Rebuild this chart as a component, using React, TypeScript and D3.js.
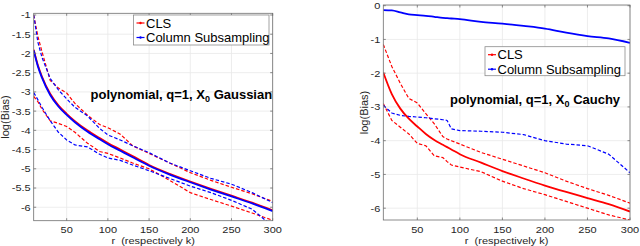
import React from "react";
import * as d3 from "d3";

// ---------- Data ----------
const xTicks = [50, 100, 150, 200, 250, 300];

// Left panel (X0 Gaussian)
const rLeft = [10, 15, 20, 30, 40, 50, 60, 75, 90, 100, 115, 130, 150, 175, 200, 225, 250, 275, 300];
const leftClsMean = [-1.9, -2.3, -2.6, -3.05, -3.35, -3.57, -3.76, -4.0, -4.2, -4.33, -4.5, -4.67, -4.9, -5.13, -5.33, -5.52, -5.7, -5.88, -6.08];
const leftCsMean = [-1.92, -2.33, -2.63, -3.08, -3.38, -3.6, -3.79, -4.03, -4.23, -4.36, -4.53, -4.7, -4.92, -5.15, -5.35, -5.54, -5.72, -5.9, -6.1];
const leftClsUpper = [-1.0, -1.55, -1.95, -2.7, -2.9, -3.03, -3.3, -3.6, -3.85, -3.93, -4.1, -4.4, -4.6, -4.85, -5.1, -5.3, -5.48, -5.65, -5.85];
const leftCsUpper = [-1.0, -1.7, -2.1, -2.65, -2.95, -3.18, -3.4, -3.62, -3.95, -4.12, -4.25, -4.4, -4.58, -4.85, -5.05, -5.25, -5.4, -5.62, -5.88];
const leftClsLower = [-3.12, -3.25, -3.45, -3.75, -3.82, -3.9, -4.05, -4.33, -4.55, -4.6, -4.72, -4.85, -5.0, -5.3, -5.62, -5.8, -5.97, -6.15, -6.34];
const leftCsLower = [-3.02, -3.2, -3.4, -3.75, -4.05, -4.25, -4.38, -4.43, -4.62, -4.72, -4.78, -4.9, -5.05, -5.25, -5.45, -5.62, -5.82, -6.05, -6.5];
const leftYTicks = [-1, -1.5, -2, -2.5, -3, -3.5, -4, -4.5, -5, -5.5, -6];

// Right panel (X0 Cauchy)
const rRight = [10, 20, 30, 40, 50, 60, 70, 80, 85, 90, 100, 125, 150, 175, 200, 225, 250, 275, 300];
const rightCsMean = [-0.13, -0.14, -0.2, -0.26, -0.28, -0.3, -0.33, -0.36, -0.37, -0.38, -0.4, -0.48, -0.53, -0.6, -0.68, -0.8, -0.9, -0.97, -1.1];
const rightClsMean = [-1.98, -2.62, -3.05, -3.35, -3.58, -3.8, -3.98, -4.12, -4.19, -4.26, -4.4, -4.65, -4.9, -5.12, -5.33, -5.52, -5.7, -5.88, -6.1];
const rightClsUpper = [-1.15, -1.8, -2.3, -2.75, -2.88, -3.2, -3.5, -3.88, -3.95, -4.0, -4.1, -4.35, -4.55, -4.75, -4.95, -5.2, -5.42, -5.62, -5.85];
const rightClsLower = [-2.9, -3.4, -3.6, -3.8, -4.08, -4.15, -4.45, -4.5, -4.62, -4.72, -4.78, -4.92, -5.2, -5.42, -5.6, -5.8, -6.0, -6.2, -6.35];
const rightCsLower = [-2.95, -3.18, -3.25, -3.28, -3.3, -3.32, -3.35, -3.38, -3.4, -3.65, -3.7, -3.72, -3.75, -3.82, -4.0, -4.1, -4.15, -4.4, -4.95];
const rightYTicks = [0, -1, -2, -3, -4, -5, -6];

const legendLabels = ["CLS", "Column Subsampling"];
const RED = "#ff0000";
const BLUE = "#0000ff";
const FONT = "'Liberation Sans', Arial, Helvetica, sans-serif";

type Series = { r: number[]; v: number[]; color: string; dashed: boolean };

type PanelProps = {
  id: string;
  x0: number; x1: number; y0: number; y1: number;
  yDomain: [number, number];
  yTicks: number[];
  series: Series[];
  legend: { x: number; y: number; w: number; h: number };
  annotation: { x: number; y: number; main: string; after: string };
  yLabelX: number;
};

const SY = 0.85; // vertical squash of the original figure's text

function Panel(p: PanelProps) {
  const xs = d3.scaleLinear().domain([10, 300]).range([p.x0, p.x1]);
  const ys = d3.scaleLinear().domain(p.yDomain).range([p.y1, p.y0]);
  const clipId = "clip-" + p.id;
  const axisColor = "#6e6e6e";
  const textColor = "#262626";
  return (
    <g>
      <defs>
        <clipPath id={clipId}>
          <rect x={p.x0} y={p.y0} width={p.x1 - p.x0} height={p.y1 - p.y0} />
        </clipPath>
      </defs>
      <rect x={p.x0} y={p.y0} width={p.x1 - p.x0} height={p.y1 - p.y0} fill="#fff" />
      {/* grid */}
      {xTicks.map((t) => (
        <line key={"gx" + t} x1={xs(t)} x2={xs(t)} y1={p.y0} y2={p.y1} stroke="#e8e8e8" strokeWidth={0.8} />
      ))}
      {p.yTicks.map((t) => (
        <line key={"gy" + t} x1={p.x0} x2={p.x1} y1={ys(t)} y2={ys(t)} stroke="#e8e8e8" strokeWidth={0.8} />
      ))}
      {/* series */}
      <g clipPath={`url(#${clipId})`}>
        {p.series.map((s, i) => {
          const line = d3
            .line<number>()
            .x((_, j) => xs(s.r[j]))
            .y((d) => ys(d))
            .curve(s.dashed ? d3.curveLinear : d3.curveMonotoneX);
          return (
            <path
              key={i}
              d={line(s.v) || ""}
              fill="none"
              stroke={s.color}
              strokeWidth={s.dashed ? 1.2 : 1.8}
              strokeDasharray={s.dashed ? "3.5,2" : undefined}
            />
          );
        })}
      </g>
      {/* axes box */}
      <rect x={p.x0} y={p.y0} width={p.x1 - p.x0} height={p.y1 - p.y0} fill="none" stroke={axisColor} strokeWidth={0.8} />
      {/* ticks */}
      {xTicks.map((t) => (
        <g key={"tx" + t}>
          <line x1={xs(t)} x2={xs(t)} y1={p.y1} y2={p.y1 - 2.5} stroke={axisColor} strokeWidth={0.8} />
          <line x1={xs(t)} x2={xs(t)} y1={p.y0} y2={p.y0 + 2.5} stroke={axisColor} strokeWidth={0.8} />
          <text
            transform={`translate(${xs(t)},233) scale(1,${SY})`}
            textAnchor="middle"
            fontSize={11}
            fill={textColor}
            fontFamily={FONT}
          >
            {t}
          </text>
        </g>
      ))}
      {p.yTicks.map((t) => (
        <g key={"ty" + t}>
          <line x1={p.x0} x2={p.x0 + 2.5} y1={ys(t)} y2={ys(t)} stroke={axisColor} strokeWidth={0.8} />
          <line x1={p.x1} x2={p.x1 - 2.5} y1={ys(t)} y2={ys(t)} stroke={axisColor} strokeWidth={0.8} />
          <text
            transform={`translate(${p.x0 - 3},${ys(t) + 3.4}) scale(1,${SY})`}
            textAnchor="end"
            fontSize={11}
            fill={textColor}
            fontFamily={FONT}
          >
            {t}
          </text>
        </g>
      ))}
      {/* axis labels */}
      <text
        transform={`translate(${(p.x0 + p.x1) / 2},243.5) scale(1,${SY})`}
        textAnchor="middle"
        fontSize={11}
        fill={textColor}
        fontFamily={FONT}
        style={{ whiteSpace: "pre" }}
      >
        {"r  (respectively k)"}
      </text>
      <text
        transform={`translate(${p.yLabelX},${(p.y0 + p.y1) / 2}) rotate(-90)`}
        textAnchor="middle"
        fontSize={11}
        fill={textColor}
        fontFamily={FONT}
      >
        log(Bias)
      </text>
      {/* annotation */}
      <text x={p.annotation.x} y={p.annotation.y} fontSize={13} fontWeight="bold" fill="#000" fontFamily={FONT}>
        {p.annotation.main}
        <tspan fontSize={9} dy={3}>0</tspan>
        <tspan dy={-3}>{p.annotation.after}</tspan>
      </text>
      {/* legend */}
      <rect x={p.legend.x} y={p.legend.y} width={p.legend.w} height={p.legend.h} fill="#fff" stroke="#8c8c8c" strokeWidth={0.8} />
      {legendLabels.map((lab, i) => {
        const cy = p.legend.y + 8 + i * 14.5;
        const c = i === 0 ? RED : BLUE;
        return (
          <g key={lab}>
            <line x1={p.legend.x + 3} x2={p.legend.x + 11} y1={cy} y2={cy} stroke={c} strokeWidth={1.2} />
            <circle cx={p.legend.x + 7} cy={cy} r={1.2} fill={c} />
            <text x={p.legend.x + 12.5} y={cy + 4.5} fontSize={13} fill="#000" fontFamily={FONT}>
              {lab}
            </text>
          </g>
        );
      })}
    </g>
  );
}

export default function App() {
  return (
    <svg
      width={640}
      height={246}
      style={{ position: "absolute", left: 0, top: 0, background: "#fff" }}
    >
      <rect width={640} height={246} fill="#fff" />
      <Panel
        id="left"
        x0={33.7}
        x1={272.7}
        y0={13.3}
        y1={220.7}
        yDomain={[-6.35, -0.956]}
        yTicks={leftYTicks}
        series={[
          { r: rLeft, v: leftClsUpper, color: RED, dashed: true },
          { r: rLeft, v: leftClsLower, color: RED, dashed: true },
          { r: rLeft, v: leftCsUpper, color: BLUE, dashed: true },
          { r: rLeft, v: leftCsLower, color: BLUE, dashed: true },
          { r: rLeft, v: leftClsMean, color: RED, dashed: false },
          { r: rLeft, v: leftCsMean, color: BLUE, dashed: false },
        ]}
        legend={{ x: 133.5, y: 15, w: 135.5, h: 30 }}
        annotation={{ x: 90.5, y: 99, main: "polynomial, q=1, X", after: " Gaussian" }}
        yLabelX={9}
      />
      <Panel
        id="right"
        x0={383.3}
        x1={630}
        y0={5}
        y1={220}
        yDomain={[-6.35, 0.02]}
        yTicks={rightYTicks}
        series={[
          { r: rRight, v: rightClsUpper, color: RED, dashed: true },
          { r: rRight, v: rightClsLower, color: RED, dashed: true },
          { r: rRight, v: rightCsLower, color: BLUE, dashed: true },
          { r: rRight, v: rightClsMean, color: RED, dashed: false },
          { r: rRight, v: rightCsMean, color: BLUE, dashed: false },
        ]}
        legend={{ x: 485, y: 46.7, w: 140, h: 29 }}
        annotation={{ x: 450, y: 104, main: "polynomial, q=1, X", after: " Cauchy" }}
        yLabelX={368}
      />
    </svg>
  );
}
